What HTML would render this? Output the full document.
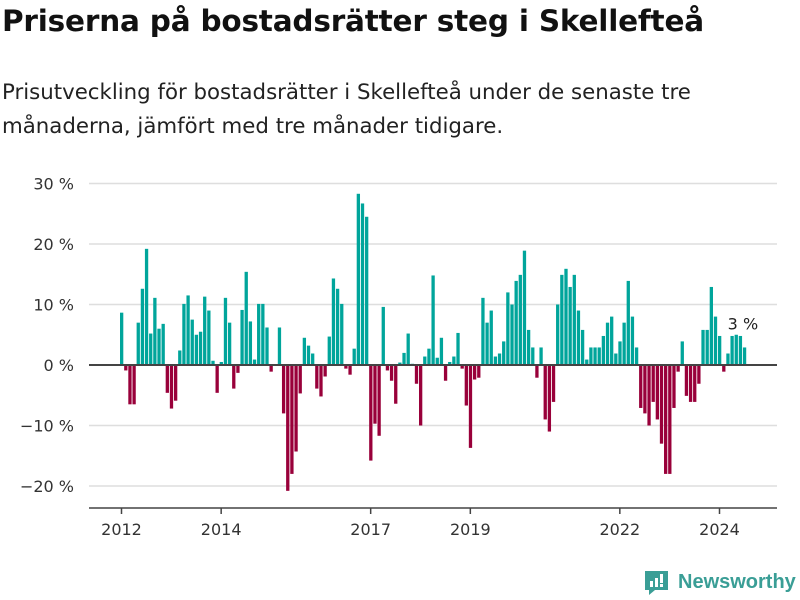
<!DOCTYPE html>
<html><head><meta charset="utf-8">
<style>
body{margin:0;width:800px;height:600px;background:#fff;font-family:"DejaVu Sans","Liberation Sans",sans-serif;color:#111;overflow:hidden;position:relative}
#title{position:absolute;left:2px;top:4px;font-size:29.5px;font-weight:bold;letter-spacing:-0.2px;margin:0}
#sub{position:absolute;left:2px;top:76px;font-size:21.3px;line-height:34px;color:#222;width:720px}
svg{position:absolute;left:0;top:0}
#logo{position:absolute;left:645px;top:568px;font-size:20px;color:#3a9e96;display:flex;align-items:center}
</style></head><body>
<h1 id="title">Priserna på bostadsrätter steg i Skellefteå</h1>
<div id="sub">Prisutveckling för bostadsrätter i Skellefteå under de senaste tre månaderna, jämfört med tre månader tidigare.</div>
<svg id="chart" width="800" height="600"></svg>
<div id="logo"><svg width="24" height="28" viewBox="0 0 24 28" style="position:static;margin-right:9px"><path d="M0 3h23v19H10l-6 5v-5H0z" fill="#3a9e96"/><rect x="5" y="13" width="3" height="6" fill="#fff"/><rect x="10" y="10" width="3" height="9" fill="#fff"/><rect x="15" y="6" width="3" height="9" fill="#fff"/><rect x="15" y="16" width="3" height="3" fill="#fff"/></svg><span style="font-family:'Liberation Sans',sans-serif;font-weight:bold;font-size:20px">Newsworthy</span></div>
<script>
const values=[8.65,-0.9,-6.5,-6.5,7.0,12.6,19.2,5.2,11.1,6.0,6.8,-4.6,-7.2,-5.9,2.4,10.1,11.5,7.5,5.0,5.5,11.3,9.0,0.7,-4.6,0.5,11.1,7.0,-3.9,-1.3,9.1,15.4,7.2,0.9,10.1,10.1,6.2,-1.1,0,6.2,
-8.0,-20.8,-18.0,-14.3,-4.7,4.5,3.2,1.9,-3.9,-5.2,-1.9,4.7,14.3,12.6,10.1,-0.6,-1.6,2.7,28.3,26.7,24.5,-15.8,-9.7,-11.7,9.6,-0.9,-2.6,-6.4,0.4,2.0,5.2,0.2,-3.1,-10.0,1.4,2.7,14.8,1.2,
4.5,-2.6,0.5,1.4,5.3,-0.6,-6.7,-13.7,-2.4,-2.1,11.1,7.0,9.0,1.4,1.9,3.9,12.0,10.0,13.9,14.9,18.9,5.8,2.9,-2.1,2.9,-9.0,-11.0,-6.1,10.0,14.9,15.9,12.9,14.9,9.0,5.8,0.9,2.9,2.9,2.9,
4.8,7.0,8.0,1.9,3.9,7.0,13.9,8.0,2.9,-7.1,-8.0,-10.0,-6.1,-9.0,-13.0,-18.0,-18.0,-7.1,-1.1,3.9,-5.1,-6.1,-6.1,-3.1,5.8,5.8,12.9,8.0,4.8,-1.1,1.9,4.8,5.0,4.8,2.9];
const yTicks=[30,20,10,0,-10,-20];
const yTickLabels=["30 %","20 %","10 %","0 %","\u221210 %","\u221220 %"];
const xTickYears=[2012,2014,2017,2019,2022,2024];
const startYear=2012;
const lastLabel="3 %";

const svg=document.getElementById('chart');
const NS='http://www.w3.org/2000/svg';
const y=v=>365-v*6.05;
const x=i=>120+i*(598/144);
const xYear=yr=>x((yr-startYear)*12)+1.5;
function mk(t,a){const e=document.createElementNS(NS,t);for(const k in a)e.setAttribute(k,a[k]);svg.appendChild(e);return e;}
yTicks.forEach((t,k)=>{
  if(t!==0){const g=mk('line',{x1:89,x2:777,y1:y(t),y2:y(t),stroke:'#dedede','stroke-width':1.5});
  
  }
  const l=mk('text',{x:74,y:y(t)+6,'text-anchor':'end','font-size':16,fill:'#333','font-family':'DejaVu Sans, Liberation Sans, sans-serif'});
  l.textContent=yTickLabels[k];
  
  
});
values.forEach((v,i)=>{
  const r=mk('rect',{x:x(i),width:3.3,y:v>=0?y(v):365,height:Math.abs(y(v)-365),fill:v>=0?'#00a59b':'#99003a'});
  
  
});
const z=mk('line',{x1:89,x2:777,y1:365,y2:365,stroke:'#444','stroke-width':2});


const ax=mk('line',{x1:89,x2:777,y1:508,y2:508,stroke:'#444','stroke-width':1.5});


xTickYears.forEach(yr=>{
  const t=mk('line',{x1:xYear(yr),x2:xYear(yr),y1:508,y2:514,stroke:'#444','stroke-width':1.5});
  
  
  const l=mk('text',{x:xYear(yr),y:535,'text-anchor':'middle','font-size':16,fill:'#333','font-family':'DejaVu Sans, Liberation Sans, sans-serif'});
  l.textContent=yr;
  
  
});
const li=values.length-1;
const lab=mk('text',{x:x(li),y:y(values[li])-18,'text-anchor':'middle','font-size':16,fill:'#222','font-family':'DejaVu Sans, Liberation Sans, sans-serif'});
lab.textContent=lastLabel;


</script>
</body></html>
